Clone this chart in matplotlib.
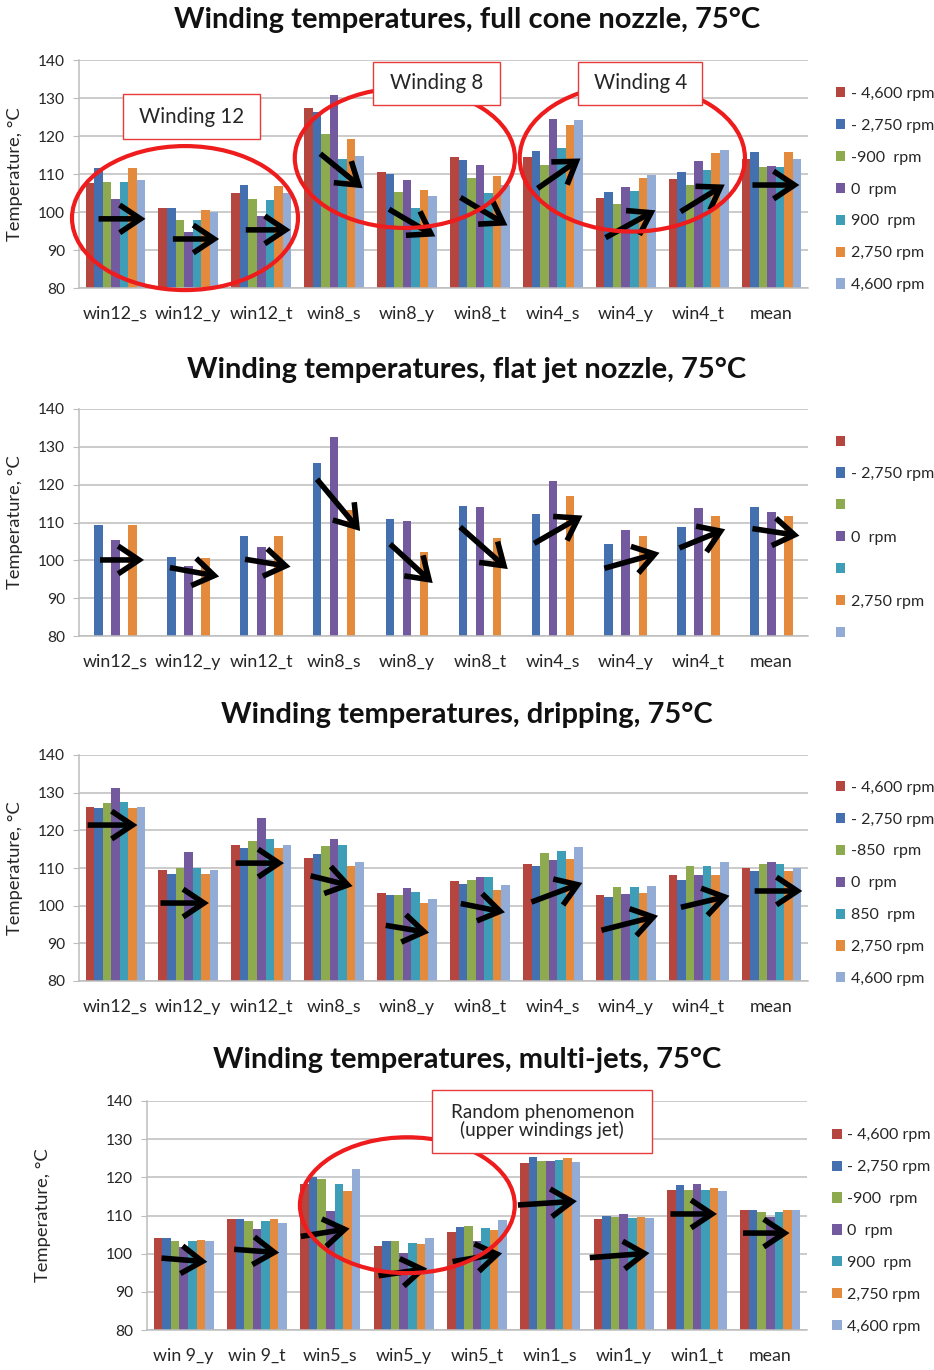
import numpy as np
import matplotlib
matplotlib.use("Agg")
import matplotlib.pyplot as plt
from matplotlib.patches import Ellipse, Rectangle, Patch, FancyArrowPatch

plt.rcParams['font.family'] = ['Lato', 'DejaVu Sans']

# ---------------- data ----------------
series_colors = ['#B5463F', '#4470B0', '#8EAA4F', '#735A9E', '#3E9EB8', '#E48A3C', '#93ACD6']

cats_main = ['win12_s', 'win12_y', 'win12_t', 'win8_s', 'win8_y', 'win8_t',
             'win4_s', 'win4_y', 'win4_t', 'mean']
cats_multi = ['win 9_y', 'win 9_t', 'win5_s', 'win5_y', 'win5_t',
              'win1_s', 'win1_y', 'win1_t', 'mean']

labels_900 = ['- 4,600 rpm', '- 2,750 rpm', '-900  rpm', '0  rpm', '900  rpm', '2,750 rpm', '4,600 rpm']
labels_flat = ['', '- 2,750 rpm', '', '0  rpm', '', '2,750 rpm', '']
labels_850 = ['- 4,600 rpm', '- 2,750 rpm', '-850  rpm', '0  rpm', '850  rpm', '2,750 rpm', '4,600 rpm']

# full cone nozzle (one list per speed)
cone_m4600 = [107.7, 101.0, 105.0, 127.4, 110.4, 114.4, 114.6, 103.6, 108.7, 113.9]
cone_m2750 = [111.6, 101.0, 107.0, 126.2, 110.0, 113.8, 116.0, 105.3, 110.5, 115.7]
cone_m900 = [107.9, 97.8, 103.3, 120.4, 105.3, 109.0, 112.5, 102.0, 107.2, 111.8]
cone_0 = [103.3, 94.8, 99.0, 130.9, 108.4, 112.5, 124.6, 106.5, 113.5, 112.0]
cone_p900 = [107.9, 97.8, 103.1, 114.0, 101.1, 105.1, 116.8, 105.6, 111.0, 111.8]
cone_p2750 = [111.6, 100.6, 106.8, 119.3, 105.9, 109.5, 122.8, 108.9, 115.4, 115.7]
cone_p4600 = [108.5, 100.0, 105.0, 114.7, 104.2, 107.0, 124.1, 109.8, 116.3, 113.9]

# flat jet nozzle (only three speeds measured)
flat_m2750 = [109.4, 100.9, 106.5, 125.8, 110.9, 114.4, 112.3, 104.2, 108.9, 114.0]
flat_0 = [105.4, 98.6, 103.4, 132.5, 110.4, 114.2, 121.0, 107.9, 113.9, 112.8]
flat_p2750 = [109.4, 100.5, 106.3, 113.4, 102.3, 105.8, 117.0, 106.4, 111.8, 111.8]

# dripping
drip_m4600 = [126.3, 109.6, 116.0, 112.7, 103.3, 106.6, 111.1, 102.9, 108.1, 109.9]
drip_m2750 = [125.8, 108.5, 115.2, 113.8, 102.7, 105.8, 110.4, 102.3, 106.9, 109.3]
drip_m850 = [127.3, 110.0, 117.3, 115.8, 102.7, 106.8, 113.9, 104.9, 110.5, 111.1]
drip_0 = [131.3, 114.2, 123.2, 117.6, 104.8, 107.7, 112.0, 103.1, 108.2, 111.6]
drip_p850 = [127.6, 110.0, 117.6, 116.2, 103.6, 107.7, 114.4, 104.9, 110.5, 111.1]
drip_p2750 = [125.8, 108.3, 115.2, 110.4, 100.8, 104.2, 112.5, 103.4, 108.2, 109.3]
drip_p4600 = [126.3, 109.5, 116.0, 111.5, 101.8, 105.6, 115.5, 105.1, 111.6, 109.9]

# multi-jets
multi_m4600 = [104.0, 109.0, 118.2, 102.1, 105.8, 123.7, 109.1, 116.6, 111.5]
multi_m2750 = [104.0, 109.0, 120.0, 103.2, 107.1, 125.2, 110.0, 117.9, 111.5]
multi_m900 = [103.4, 108.5, 119.6, 103.4, 107.3, 124.4, 109.5, 116.8, 110.8]
multi_0 = [101.8, 106.5, 111.2, 100.3, 103.4, 124.4, 110.3, 118.3, 109.5]
multi_p900 = [103.2, 108.5, 118.2, 102.8, 106.7, 124.5, 109.4, 116.8, 110.8]
multi_p2750 = [103.6, 109.0, 116.5, 102.5, 106.3, 125.0, 109.6, 117.3, 111.5]
multi_p4600 = [103.4, 108.0, 122.2, 104.1, 108.8, 124.0, 109.4, 116.5, 111.5]

cone = [cone_m4600, cone_m2750, cone_m900, cone_0, cone_p900, cone_p2750, cone_p4600]
flat = [None, flat_m2750, None, flat_0, None, flat_p2750, None]
drip = [drip_m4600, drip_m2750, drip_m850, drip_0, drip_p850, drip_p2750, drip_p4600]
multi = [multi_m4600, multi_m2750, multi_m900, multi_0, multi_p900, multi_p2750, multi_p4600]

# trend arrows: (x0, y0, x1, y1) in category / temperature units
arrows_cone = [(-0.27, 98.2, 0.45, 98.2), (0.75, 92.9, 1.46, 92.9), (1.75, 95.3, 2.44, 95.3),
               (2.78, 115.8, 3.42, 105.8), (3.72, 101.1, 4.42, 93.2), (4.70, 104.2, 5.41, 96.1),
               (5.76, 105.8, 6.41, 114.5), (6.69, 92.9, 7.44, 100.8), (7.72, 99.7, 8.39, 107.6),
               (8.70, 107.1, 9.42, 107.1)]
arrows_flat = [(-0.25, 100.1, 0.43, 100.1), (0.71, 98.2, 1.46, 95.6), (1.74, 100.4, 2.44, 98.2),
               (2.74, 122.0, 3.38, 107.2), (3.74, 104.8, 4.38, 93.5), (4.70, 109.3, 5.41, 97.2),
               (5.71, 104.1, 6.44, 112.2), (6.67, 97.7, 7.50, 102.2), (7.70, 103.0, 8.40, 108.5),
               (8.70, 108.5, 9.42, 106.4)]
arrows_drip = [(-0.42, 121.4, 0.34, 121.4), (0.58, 100.7, 1.32, 100.7), (1.61, 111.3, 2.35, 111.3),
               (2.64, 108.1, 3.29, 105.0), (3.67, 94.9, 4.34, 92.7), (4.70, 100.7, 5.38, 98.1),
               (5.67, 100.7, 6.44, 106.3), (6.63, 93.3, 7.48, 97.5), (7.72, 99.4, 8.46, 102.8),
               (8.73, 103.9, 9.46, 103.9)]
arrows_multi = [(-0.34, 98.9, 0.36, 97.8), (0.65, 101.2, 1.34, 100.2), (1.56, 104.4, 2.30, 106.7),
                (2.62, 94.1, 3.36, 96.2), (3.63, 97.8, 4.38, 100.2), (4.52, 112.7, 5.40, 113.8),
                (5.50, 98.9, 6.39, 100.2), (6.60, 110.4, 7.31, 110.4), (7.59, 105.4, 8.30, 105.4)]

# ---------------- figure ----------------
W, H = 934, 1370
fig = plt.figure(figsize=(W / 100, H / 100), dpi=100)
fig.patch.set_facecolor('white')

TXT = '#262626'
RED = '#EE1C1C'


def px_rect(left, top, right, bottom):
    return [left / W, 1 - bottom / H, (right - left) / W, (bottom - top) / H]


def make_panel(rect, title, title_y, cats, data, labels, arrows, ylabel_x):
    ax = fig.add_axes(rect)
    n = len(cats)
    x = np.arange(n)
    bw = 0.117
    handles = []
    for k, (vals, col) in enumerate(zip(data, series_colors)):
        if vals is not None:
            ax.bar(x + (k - 3) * bw, np.array(vals) - 80, bottom=80, width=bw,
                   color=col, edgecolor='none', zorder=2)
        handles.append(Patch(facecolor=col, edgecolor='none'))
    ax.set_xlim(-0.5, n - 0.5)
    ax.set_ylim(80, 140)
    ax.set_yticks(np.arange(80, 141, 10))
    ax.set_xticks(x)
    ax.set_xticklabels(cats)
    ax.yaxis.grid(True, color='#BDBDBD', lw=1.1, zorder=0)
    ax.set_axisbelow(True)
    for s in ['top', 'right']:
        ax.spines[s].set_visible(False)
    ax.spines['left'].set_color('#BDBDBD')
    ax.spines['bottom'].set_color('#BDBDBD')
    ax.spines['left'].set_linewidth(1.1)
    ax.spines['bottom'].set_linewidth(1.1)
    ax.tick_params(axis='y', labelsize=11.2, colors='#BDBDBD', labelcolor=TXT, length=4, pad=6)
    ax.tick_params(axis='x', labelsize=12.8, length=0, labelcolor=TXT, pad=13)
    fig.text(0.5, 1 - title_y / H, title, ha='center', va='center',
             fontsize=21, fontweight='bold', color='#111111')
    ax.text(ylabel_x, 0.5, 'Temperature, °C', transform=ax.transAxes, rotation=90,
            ha='center', va='center', fontsize=13.2, color=TXT)
    leg = ax.legend(handles, labels, loc='center left', bbox_to_anchor=(1.038, 0.432),
                    frameon=False, fontsize=11.5, handlelength=0.6, handleheight=0.6,
                    handletextpad=0.35, labelspacing=1.12, borderaxespad=0, borderpad=0)
    for t in leg.get_texts():
        t.set_color(TXT)
    for (x0, y0, x1, y1) in arrows:
        ax.add_patch(FancyArrowPatch((x0, y0), (x1, y1),
                                     arrowstyle='->,head_length=0.75,head_width=0.5',
                                     mutation_scale=20, lw=4.0, color='black',
                                     zorder=5, capstyle='butt', joinstyle='miter'))
    return ax


def red_box(ax, x0, x1, y0, y1, text, fs):
    ax.add_patch(Rectangle((x0, y0), x1 - x0, y1 - y0, facecolor='white',
                           edgecolor='#E83A3A', lw=1.0, zorder=7, clip_on=False))
    ax.text((x0 + x1) / 2, (y0 + y1) / 2, text, ha='center', va='center',
            fontsize=fs, color=TXT, zorder=8, linespacing=1.05)


def red_ellipse(ax, cx, cy, w, h):
    ax.add_patch(Ellipse((cx, cy), w, h, facecolor='none', edgecolor=RED,
                         lw=3.0, zorder=6, clip_on=False))


# panel 1: full cone nozzle
ax1 = make_panel(px_rect(79, 60, 808, 288), 'Winding temperatures, full cone nozzle, 75°C', 20,
                 cats_main, cone, labels_900, arrows_cone, -0.088)
red_ellipse(ax1, 0.954, 98.4, 3.10, 37.9)
red_ellipse(ax1, 3.97, 114.2, 3.02, 36.8)
red_ellipse(ax1, 7.09, 114.2, 3.09, 38.7)
red_box(ax1, 0.10, 1.98, 119.2, 131.05, 'Winding 12', 14.8)
red_box(ax1, 3.53, 5.28, 128.2, 139.5, 'Winding 8', 14.8)
red_box(ax1, 6.35, 8.05, 128.2, 139.5, 'Winding 4', 14.8)

# panel 2: flat jet nozzle
ax2 = make_panel(px_rect(79, 409, 808, 636), 'Winding temperatures, flat jet nozzle, 75°C', 370,
                 cats_main, flat, labels_flat, arrows_flat, -0.088)

# panel 3: dripping
ax3 = make_panel(px_rect(79, 755, 808, 981), 'Winding temperatures, dripping, 75°C', 715,
                 cats_main, drip, labels_850, arrows_drip, -0.088)

# panel 4: multi-jets
ax4 = make_panel(px_rect(147, 1101, 807, 1330), 'Winding temperatures, multi-jets, 75°C', 1060,
                 cats_multi, multi, labels_900, arrows_multi, -0.158)
red_ellipse(ax4, 3.05, 112.7, 2.93, 35.6)
red_box(ax4, 3.39, 6.39, 126.4, 142.9, 'Random phenomenon\n(upper windings jet)', 13.6)

fig.savefig('out.png', dpi=100, facecolor='white')
